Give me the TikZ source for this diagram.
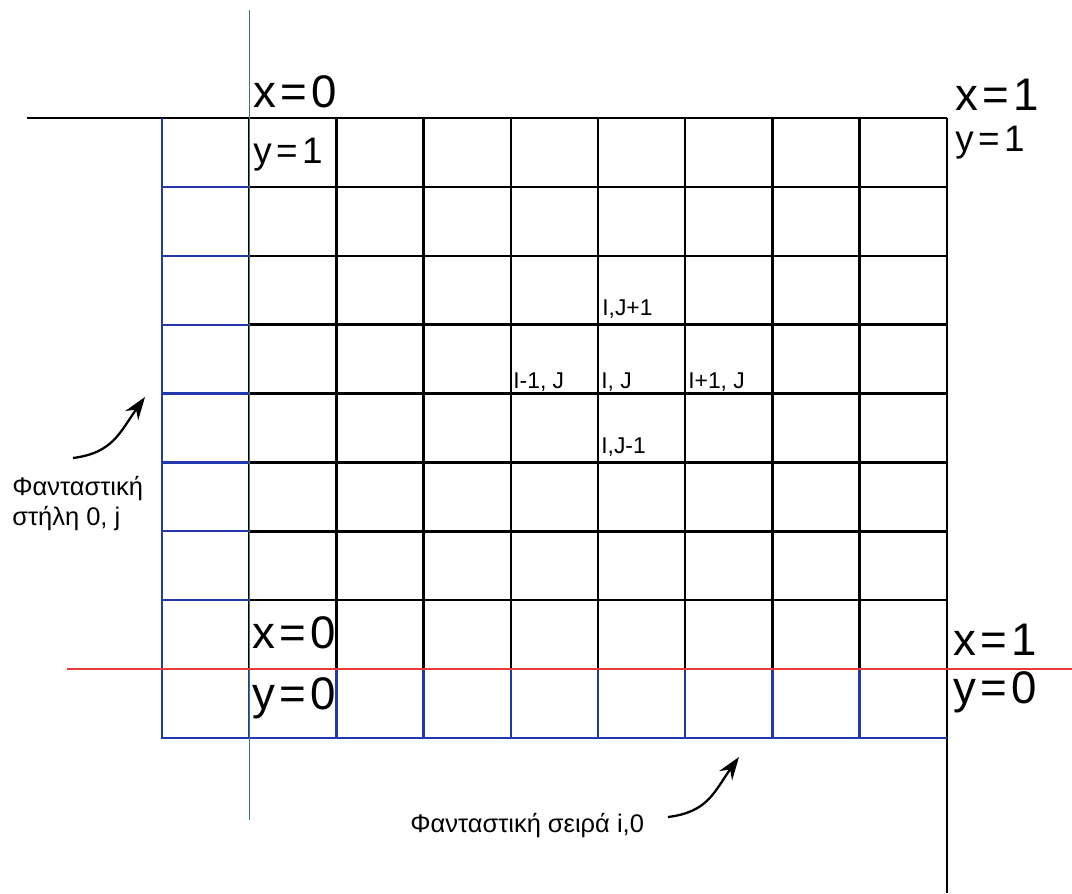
\documentclass[tikz,border=0pt]{standalone}
\usepackage{fontspec}
\setmainfont{Liberation Sans}
\usepackage{tikz}
\usetikzlibrary{arrows.meta,positioning,calc}
\definecolor{ghostblue}{RGB}{35,55,175}
\definecolor{axisgreen}{RGB}{60,125,85}
\definecolor{axisred}{RGB}{230,60,60}
\newcommand{\eqlabel}[2]{#1\kern2.5pt=\kern2.5pt#2}

\begin{document}
\begin{tikzpicture}[x=0.02cm, y=-0.02cm,
    gridline/.style={black, line width=1.4pt},
    ghost/.style={ghostblue, line width=1.3pt},
    xaxis/.style={axisred, line width=0.9pt},
    yaxis/.style={axisgreen, line width=0.7pt},
    coord/.style={inner sep=0pt, anchor=base west, font=\fontsize{26}{28}\selectfont},
    coordsmall/.style={coord, font=\fontsize{21}{24}\selectfont},
    cell/.style={inner sep=0pt, anchor=base west, font=\fontsize{13}{15}\selectfont},
    note/.style={inner sep=0pt, align=left, font=\fontsize{14.5}{17}\selectfont},
    pointer/.style={-{Stealth[length=13pt,width=9pt]}, line width=1.3pt}]

    \useasboundingbox (0,0) rectangle (1072,893);

    % Grid
    \foreach \i in {1,...,8}
        \draw[gridline] ({162+87.2*\i},118) -- ({162+87.2*\i},669);
    \foreach \j in {0,...,7}
        \draw[gridline] (249.2,{118+68.89*\j}) -- (947,{118+68.89*\j});
    \draw[gridline] (27,118) -- (249.2,118);
    \draw[gridline] (947,118) -- (947,893);

    % Imaginary column and row
    \draw[ghost] (162,118) -- (162,738) -- (947,738);
    \foreach \j in {1,...,7}
        \draw[ghost] (162,{118+68.89*\j}) -- (249.2,{118+68.89*\j});
    \foreach \i in {1,...,8}
        \draw[ghost] ({162+87.2*\i},669) -- ({162+87.2*\i},738);

    % Axes
    \draw[yaxis] (249.2,10) -- (249.2,820);
    \draw[xaxis] (67,669) -- (1072,669);

    % Corners
    \node[coord] (x0top) at (253,107) {\eqlabel{x}{0}};
    \node[coordsmall] (y1top) at (253,163) {\eqlabel{y}{1}};
    \node[coord] (x1top) at (955,110) {\eqlabel{x}{1}};
    \node[coordsmall] (y1right) at (955,151) {\eqlabel{y}{1}};
    \node[coord] (x0bot) at (252,648) {\eqlabel{x}{0}};
    \node[coord] (y0bot) at (252,709) {\eqlabel{y}{0}};
    \node[coord] (x1bot) at (953,655) {\eqlabel{x}{1}};
    \node[coord] (y0right) at (953,703) {\eqlabel{y}{0}};

    % Stencil
    \node[cell] (north) at (602,315) {I,J+1};
    \node[cell] (west) at (513,388) {I-1, J};
    \node[cell] (centre) at (601,388) {I, J};
    \node[cell] (east) at (688,388) {I+1, J};
    \node[cell] (south) at (601,453) {I,J-1};

    % Notes
    \node[note, anchor=north west] (ghostcol) at (12,476) {Φανταστική\\στήλη 0, j};
    \node[note, anchor=base west] (ghostrow) at (410,832) {Φανταστική σειρά i,0};

    % Arrows
    \coordinate (colTail) at (73,458);
    \coordinate (colHead) at (145,397);
    \coordinate (rowTail) at (668,817);
    \coordinate (rowHead) at (739,757);
    \draw[pointer] (colTail) .. controls +(40,-5) and +(-25,35) .. (colHead);
    \draw[pointer] (rowTail) .. controls +(40,-5) and +(-25,35) .. (rowHead);

\end{tikzpicture}
\end{document}
